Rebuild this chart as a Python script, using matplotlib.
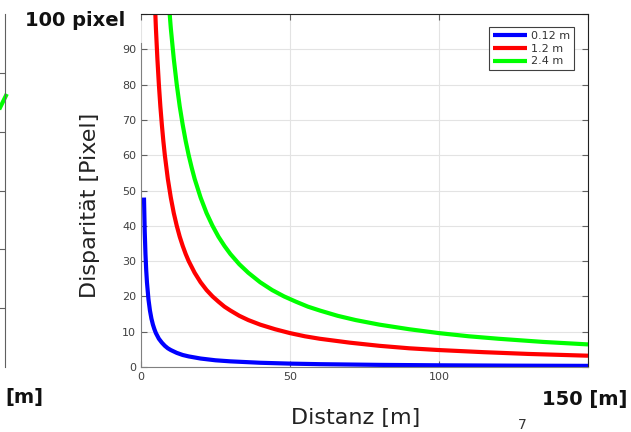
import matplotlib
matplotlib.use("Agg")
import matplotlib.pyplot as plt

# ----------------------------------------------------
# Data (disparity vs. distance, per baseline)
# ----------------------------------------------------
dist_012 = [1, 1.25, 1.5, 1.75, 2, 2.5, 3, 3.5, 4, 4.5, 5, 6, 7, 8, 9, 10, 12, 14, 16, 20,
            25, 30, 40, 50, 60, 80, 100, 125, 150]
disp_012 = [48, 38.4, 32, 27.4, 24, 19.2, 16, 13.7, 12, 10.7, 9.6, 8, 6.9, 6, 5.3, 4.8, 4, 3.4, 3, 2.4,
            1.9, 1.6, 1.2, 0.96, 0.8, 0.6, 0.48, 0.38, 0.32]

dist_12 = [4, 4.5, 5, 5.5, 6, 6.5, 7, 7.5, 8, 9, 10, 11, 12, 13, 14, 15, 16, 18, 20, 22, 24, 26, 28,
           30, 33, 36, 40, 45, 50, 55, 60, 70, 80, 90, 100, 115, 130, 150]
disp_12 = [120, 106.7, 96, 87.3, 80, 73.8, 68.6, 64, 60, 53.3, 48, 43.6, 40, 36.9, 34.3, 32, 30, 26.7,
           24, 21.8, 20, 18.5, 17.1, 16, 14.5, 13.3, 12, 10.7, 9.6, 8.7, 8, 6.9, 6, 5.3, 4.8, 4.2, 3.7, 3.2]

dist_24 = [9, 10, 11, 12, 13, 14, 15, 16, 17, 18, 20, 22, 24, 26, 28, 30, 33, 36, 40, 44, 48, 52, 56,
           60, 66, 72, 80, 90, 100, 110, 120, 135, 150]
disp_24 = [106.7, 96, 87.3, 80, 73.8, 68.6, 64, 60, 56.5, 53.3, 48, 43.6, 40, 36.9, 34.3, 32, 29.1,
           26.7, 24, 21.8, 20, 18.5, 17.1, 16, 14.5, 13.3, 12, 10.7, 9.6, 8.7, 8, 7.1, 6.4]

baselines = ["0.12 m", "1.2 m", "2.4 m"]
x_ticks = [0, 50, 100, 150]
x_tick_labels = ["0", "50", "100", ""]
y_ticks = [0, 10, 20, 30, 40, 50, 60, 70, 80, 90, 100]
y_tick_labels = ["0", "10", "20", "30", "40", "50", "60", "70", "80", "90", ""]

# tail of the neighbouring chart cut off at the left edge
left_dist = [98.9, 100.2]
left_disp = [4.41, 4.61]
left_ticks = [1, 2, 3, 4, 5]

fig = plt.figure(figsize=(6.31, 4.32), dpi=100)

# ----------------------------------------------------
# Partial chart at the left edge
# ----------------------------------------------------
ax0 = fig.add_axes([5 / 631 - 447 / 631, 1 - 367 / 432, 447 / 631, 353 / 432])
ax0.plot(left_dist, left_disp, color="#00ff00", lw=3, clip_on=False)
ax0.set_xlim(0, 100)
ax0.set_ylim(0, 6)
ax0.set_yticks(left_ticks)
ax0.yaxis.tick_right()
ax0.tick_params(axis="y", direction="in", length=4, color="#606060", labelright=False)
ax0.set_xticks([])
for s in ["top", "left", "bottom"]:
    ax0.spines[s].set_visible(False)
ax0.spines["right"].set_color("#606060")

# ----------------------------------------------------
# Main chart
# ----------------------------------------------------
ax = fig.add_axes([141 / 631, 1 - 367 / 432, 447 / 631, 353 / 432])
line_kw = dict(lw=3, solid_joinstyle="round", solid_capstyle="butt")
ax.plot(dist_012, disp_012, color="#0000ff", label=baselines[0], **line_kw)
ax.plot(dist_12, disp_12, color="#ff0000", label=baselines[1], **line_kw)
ax.plot(dist_24, disp_24, color="#00ff00", label=baselines[2], **line_kw)

ax.set_xlim(0, 150)
ax.set_ylim(0, 100)
ax.set_xticks(x_ticks)
ax.set_xticklabels(x_tick_labels)
ax.set_yticks(y_ticks)
ax.set_yticklabels(y_tick_labels)
ax.grid(True, color="#e3e3e3", lw=0.8)
ax.set_axisbelow(True)
ax.tick_params(direction="in", length=4, labelsize=8, labelcolor="#404040",
               color="#606060", top=True, right=True)

ax.spines["left"].set_color("#808080")
ax.spines["left"].set_bounds(0, 91.8)
ax.spines["bottom"].set_color("#808080")
ax.spines["top"].set_color("#202020")
ax.spines["right"].set_color("#202020")

leg = ax.legend(loc="upper right", bbox_to_anchor=((574 - 141) / 447, 1 - 13 / 353),
                borderaxespad=0, fontsize=8, handlelength=3.0, fancybox=False,
                framealpha=1, edgecolor="#404040", borderpad=0.35, labelspacing=0.25,
                handletextpad=0.4)
leg.get_frame().set_linewidth(0.8)
for t in leg.get_texts():
    t.set_color("#333333")

# axis labels (slide style)
fig.text(90 / 631, 1 - 205 / 432, "Disparität [Pixel]", rotation=90,
         ha="center", va="center", fontsize=16, color="#222222")
fig.text(356 / 631, 1 - 418 / 432, "Distanz [m]", ha="center", va="center",
         fontsize=16, color="#222222")

# slide annotations
fig.text(25 / 631, 1 - 20 / 432, "100 pixel", ha="left", va="center",
         fontsize=14, fontweight="bold", color="#111111")
fig.text(627 / 631, 1 - 400 / 432, "150 [m]", ha="right", va="center",
         fontsize=14, fontweight="bold", color="#111111")
fig.text(5 / 631, 1 - 398 / 432, "[m]", ha="left", va="center",
         fontsize=14, fontweight="bold", color="#111111")
fig.text(522 / 631, 1 - 425 / 432, "7", ha="center", va="center",
         fontsize=10, color="#333333")

fig.savefig("out.png", dpi=100)
